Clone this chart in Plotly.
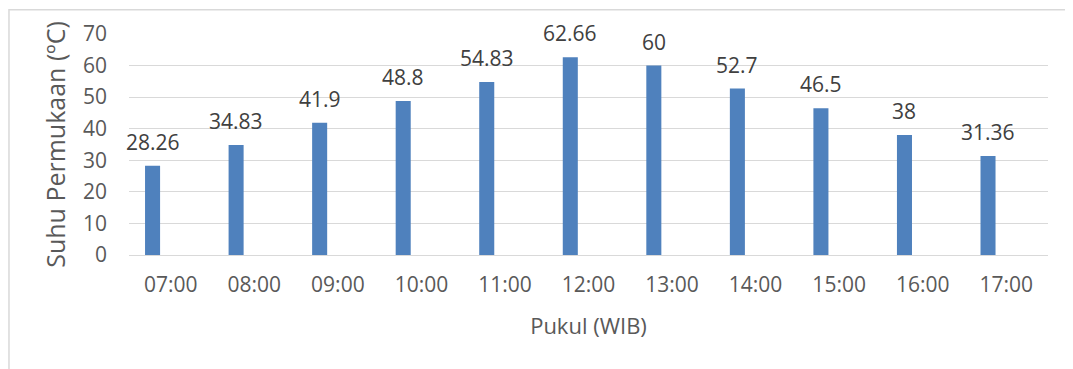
import plotly.graph_objects as go

categories = ["07:00", "08:00", "09:00", "10:00", "11:00", "12:00",
              "13:00", "14:00", "15:00", "16:00", "17:00"]
values = [28.26, 34.83, 41.9, 48.8, 54.83, 62.66, 60, 52.7, 46.5, 38, 31.36]
value_labels = ["28.26", "34.83", "41.9", "48.8", "54.83", "62.66",
                "60", "52.7", "46.5", "38", "31.36"]
y_ticks = [0, 10, 20, 30, 40, 50, 60, 70]

FONT = "Open Sans"
BAR_W = 0.18
BAR_OFF = -0.308

fig = go.Figure()
fig.add_trace(go.Bar(
    x=categories, y=values,
    width=BAR_W, offset=BAR_OFF,
    marker=dict(color="#4f81bd", line=dict(width=0)),
    hoverinfo="x+y",
))

for c, v, t in zip(categories, values, value_labels):
    fig.add_annotation(
        x=c, y=v, text=t, showarrow=False,
        xref="x", yref="y", yanchor="bottom",
        xshift=(BAR_OFF + BAR_W / 2) * 83.5, yshift=8,
        font=dict(family=FONT, size=21, color="#404040"),
    )

fig.add_shape(type="rect", xref="paper", yref="paper",
              x0=-0.1306, x1=1.1, y0=-0.7, y1=1.11,
              line=dict(color="#d9d9d9", width=1.5), fillcolor="rgba(0,0,0,0)",
              layer="below")

fig.update_layout(
    width=1065, height=361,
    margin=dict(l=121, r=25, t=26, b=114),
    paper_bgcolor="white", plot_bgcolor="white",
    showlegend=False,
    font=dict(family=FONT, size=21, color="#595959"),
    xaxis=dict(
        type="category", range=[-0.5, 10.5],
        showgrid=False, showline=False, zeroline=False,
        ticks="", ticklabelstandoff=15,
        tickfont=dict(family=FONT, size=21, color="#595959"),
        title=dict(text="Pukul (WIB)", standoff=21,
                   font=dict(family=FONT, size=22, color="#595959")),
    ),
    yaxis=dict(
        range=[0, 70], tickvals=y_ticks,
        showgrid=True, gridcolor="#d9d9d9", gridwidth=1.3,
        zeroline=True, zerolinecolor="#d9d9d9", zerolinewidth=1.3,
        showline=False, ticks="", ticklabelstandoff=21,
        tickfont=dict(family=FONT, size=21, color="#595959"),
        title=dict(text="Suhu Permukaan (ºC)", standoff=10,
                   font=dict(family=FONT, size=25, color="#595959")),
    ),
)

fig.write_html("out.html")
